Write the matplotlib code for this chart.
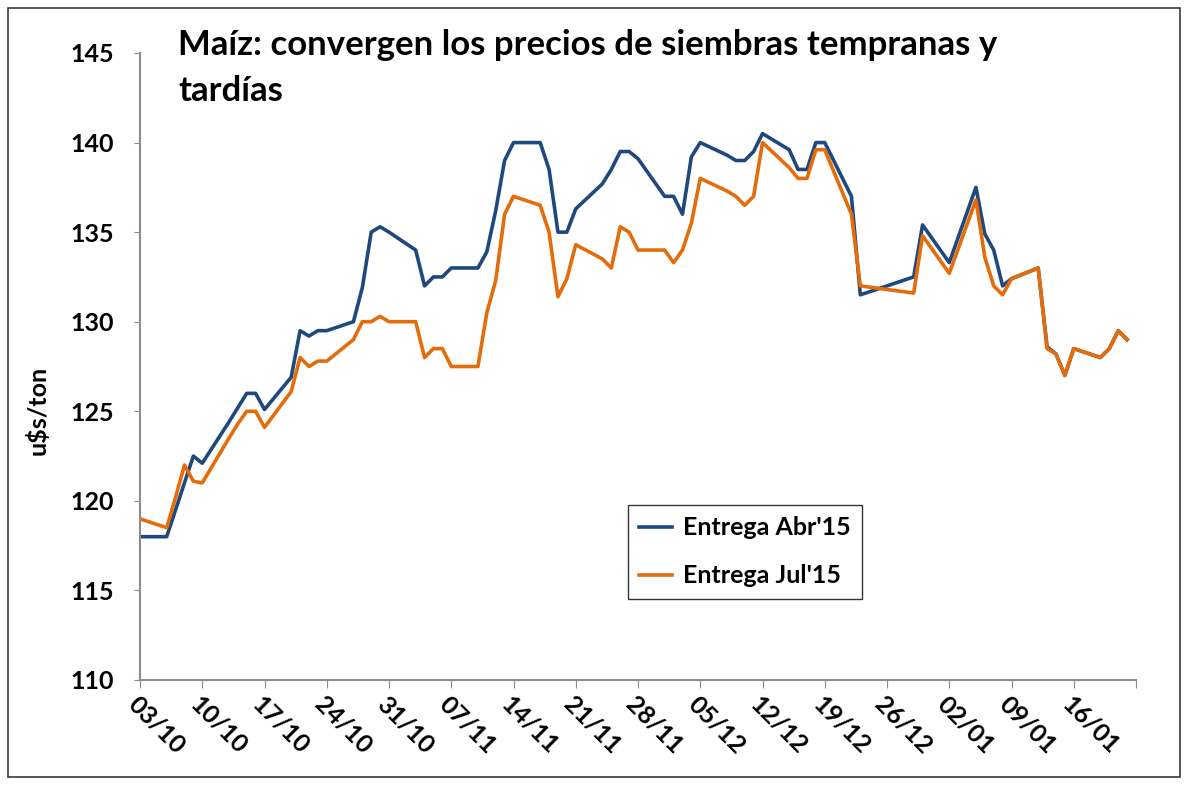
import numpy as np
import pandas as pd
import matplotlib
matplotlib.use("Agg")
import matplotlib.pyplot as plt
from matplotlib.patches import Rectangle

# ---------------------------------------------------------
# Data
# ---------------------------------------------------------

dates = [
    "2014-10-03", "2014-10-06", "2014-10-07", "2014-10-08", "2014-10-09", "2014-10-10",
    "2014-10-13", "2014-10-14", "2014-10-15", "2014-10-16", "2014-10-17",
    "2014-10-20", "2014-10-21", "2014-10-22", "2014-10-23", "2014-10-24",
    "2014-10-27", "2014-10-28", "2014-10-29", "2014-10-30", "2014-10-31",
    "2014-11-03", "2014-11-04", "2014-11-05", "2014-11-06", "2014-11-07",
    "2014-11-10", "2014-11-11", "2014-11-12", "2014-11-13", "2014-11-14",
    "2014-11-17", "2014-11-18", "2014-11-19", "2014-11-20", "2014-11-21",
    "2014-11-24", "2014-11-25", "2014-11-26", "2014-11-27", "2014-11-28",
    "2014-12-01", "2014-12-02", "2014-12-03", "2014-12-04", "2014-12-05",
    "2014-12-08", "2014-12-09", "2014-12-10", "2014-12-11", "2014-12-12",
    "2014-12-15", "2014-12-16", "2014-12-17", "2014-12-18", "2014-12-19",
    "2014-12-22", "2014-12-23", "2014-12-29", "2014-12-30",
    "2015-01-02", "2015-01-05", "2015-01-06", "2015-01-07", "2015-01-08", "2015-01-09",
    "2015-01-12", "2015-01-13", "2015-01-14", "2015-01-15", "2015-01-16",
    "2015-01-19", "2015-01-20", "2015-01-21", "2015-01-22",
]

abr15 = [
    118.0, 118.0, 119.5, 121.0, 122.5, 122.1,
    124.4, 125.2, 126.0, 126.0, 125.1,
    126.9, 129.5, 129.2, 129.5, 129.5,
    130.0, 131.9, 135.0, 135.3, 135.0,
    134.0, 132.0, 132.5, 132.5, 133.0,
    133.0, 133.9, 136.2, 139.0, 140.0,
    140.0, 138.5, 135.0, 135.0, 136.3,
    137.7, 138.5, 139.5, 139.5, 139.1,
    137.0, 137.0, 136.0, 139.2, 140.0,
    139.3, 139.0, 139.0, 139.5, 140.5,
    139.6, 138.5, 138.5, 140.0, 140.0,
    137.0, 131.5, 132.5, 135.4,
    133.3, 137.5, 134.9, 134.0, 132.0, 132.4,
    133.0, 128.6, 128.2, 127.0, 128.5,
    128.0, 128.5, 129.5, 129.0,
]

jul15 = [
    119.0, 118.5, 120.2, 122.0, 121.1, 121.0,
    123.5, 124.3, 125.0, 125.0, 124.1,
    126.1, 128.0, 127.5, 127.8, 127.8,
    129.0, 130.0, 130.0, 130.3, 130.0,
    130.0, 128.0, 128.5, 128.5, 127.5,
    127.5, 130.5, 132.3, 136.0, 137.0,
    136.5, 135.0, 131.4, 132.4, 134.3,
    133.5, 133.0, 135.3, 135.0, 134.0,
    134.0, 133.3, 134.0, 135.5, 138.0,
    137.3, 137.0, 136.5, 137.0, 140.0,
    138.6, 138.0, 138.0, 139.6, 139.6,
    136.0, 132.0, 131.6, 134.8,
    132.7, 136.8, 133.6, 132.0, 131.5, 132.4,
    133.0, 128.5, 128.2, 127.0, 128.5,
    128.0, 128.5, 129.5, 129.0,
]

series_labels = ["Entrega Abr'15", "Entrega Jul'15"]
title = "Maíz: convergen los precios de siembras tempranas y\ntardías"
y_label = "u$s/ton"

df = pd.DataFrame({"fecha": pd.to_datetime(dates), "abr": abr15, "jul": jul15})

# ---------------------------------------------------------
# Plot
# ---------------------------------------------------------

plt.rcParams["font.family"] = ["Lato", "DejaVu Sans"]
plt.rcParams["font.weight"] = "bold"

fig = plt.figure(figsize=(11.88, 7.85), dpi=100)
ax = fig.add_axes([140 / 1188, 1 - 680 / 785, (1136 - 140) / 1188, (680 - 53) / 785])

# outer chart border
fig.patches.append(Rectangle((8 / 1188, 8 / 785), 1172 / 1188, 769 / 785,
                             transform=fig.transFigure, fill=False,
                             edgecolor="#3a3a3a", linewidth=1.2))

blue = "#1F497D"
orange = "#E46C0A"

ax.plot(df["fecha"], df["abr"], color=blue, linewidth=2.6, label=series_labels[0])
ax.plot(df["fecha"], df["jul"], color=orange, linewidth=2.6, label=series_labels[1])

start = pd.Timestamp("2014-10-03")
ticks = pd.date_range(start, periods=17, freq="7D")
ax.set_xlim(ticks[0], ticks[-1])
ax.set_xticks(ticks)
ax.set_xticklabels([t.strftime("%d/%m") for t in ticks[:-1]] + [""],
                   rotation=-45, ha="left", va="top", rotation_mode="anchor",
                   fontsize=18, fontweight="bold")

ax.set_ylim(110, 145)
ax.set_yticks(np.arange(110, 146, 5))
ax.tick_params(axis="y", labelsize=18, length=4, color="#8c8c8c", pad=15)
ax.tick_params(axis="x", length=6, color="#8c8c8c", pad=3)
for lbl in ax.get_yticklabels():
    lbl.set_fontweight("bold")

for side in ["top", "right"]:
    ax.spines[side].set_visible(False)
for side in ["left", "bottom"]:
    ax.spines[side].set_color("#8c8c8c")
    ax.spines[side].set_linewidth(1.5)

ax.set_ylabel(y_label, fontsize=18, fontweight="bold")
ax.yaxis.set_label_coords((50 - 140) / 996, (680 - 410) / 627)

ax.text(178 / 1188, 1 - 29 / 785, title, transform=fig.transFigure,
        fontsize=25, fontweight="bold", va="top", ha="left",
        linespacing=1.55)

leg = ax.legend(loc="upper left", bbox_to_anchor=((628 - 140) / 996, (680 - 505) / 627),
                frameon=True, fancybox=False, fontsize=18, handlelength=1.3,
                borderpad=0.45, labelspacing=1.0, handletextpad=0.45,
                borderaxespad=0)
leg.get_frame().set_edgecolor("black")
leg.get_frame().set_linewidth(1.0)
for t in leg.get_texts():
    t.set_fontweight("bold")

fig.savefig("out.png", dpi=100)
